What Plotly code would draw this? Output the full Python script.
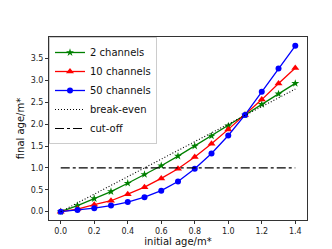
import plotly.graph_objects as go

x = [0.0, 0.1, 0.2, 0.3, 0.4, 0.5, 0.6, 0.7, 0.8, 0.9, 1.0, 1.1, 1.2, 1.3, 1.4]
ch2 = [0, 0.14, 0.30, 0.46, 0.65, 0.85, 1.05, 1.27, 1.50, 1.73, 1.96, 2.21, 2.45, 2.69, 2.93]
ch10 = [0, 0.06, 0.16, 0.25, 0.40, 0.56, 0.76, 0.98, 1.25, 1.55, 1.88, 2.21, 2.56, 2.93, 3.28]
ch50 = [0, 0.04, 0.08, 0.14, 0.22, 0.33, 0.48, 0.69, 0.98, 1.33, 1.74, 2.21, 2.74, 3.27, 3.79]
breakeven_x = [0.0, 1.4]
breakeven_y = [0.0, 2.8]
cutoff_x = [0.0, 1.4]
cutoff_y = [1.0, 1.0]
xticks = [0.0, 0.2, 0.4, 0.6, 0.8, 1.0, 1.2, 1.4]
yticks = [0.0, 0.5, 1.0, 1.5, 2.0, 2.5, 3.0, 3.5]

fig = go.Figure()
fig.add_trace(go.Scatter(x=x, y=ch2, name="2 channels", mode="lines+markers",
                         line=dict(color="green", width=1.3),
                         marker=dict(symbol="star", size=6, color="green")))
fig.add_trace(go.Scatter(x=x, y=ch10, name="10 channels", mode="lines+markers",
                         line=dict(color="red", width=1.3),
                         marker=dict(symbol="triangle-up", size=7, color="red")))
fig.add_trace(go.Scatter(x=x, y=ch50, name="50 channels", mode="lines+markers",
                         line=dict(color="blue", width=1.3),
                         marker=dict(symbol="circle", size=6, color="blue")))
fig.add_trace(go.Scatter(x=breakeven_x, y=breakeven_y, name="break-even", mode="lines",
                         line=dict(color="black", width=1.1, dash="1px,2px")))
fig.add_trace(go.Scatter(x=cutoff_x, y=cutoff_y, name="cut-off", mode="lines",
                         line=dict(color="black", width=1.1, dash="dashdot")))

axis_common = dict(showgrid=False, zeroline=False, showline=True, mirror=True,
                   linecolor="#333", linewidth=1, ticks="outside", ticklen=3,
                   tickcolor="#333", tickfont=dict(size=8, color="#222"))
fig.update_xaxes(range=[-0.07, 1.47], tickvals=xticks, ticktext=[f"{v:.1f}" for v in xticks],
                 title=dict(text="initial age/m*", font=dict(size=10, color="#111"), standoff=2),
                 **axis_common)
fig.update_yaxes(range=[-0.19, 3.99], tickvals=yticks, ticktext=[f"{v:.1f}" for v in yticks],
                 title=dict(text="final age/m*", font=dict(size=10, color="#111"), standoff=4),
                 **axis_common)
fig.update_layout(
    width=332, height=249,
    margin=dict(l=41, r=33, t=29, b=27),
    plot_bgcolor="white", paper_bgcolor="white",
    font=dict(family="DejaVu Sans"),
    legend=dict(x=0.0, y=1.0, xanchor="left", yanchor="top",
                bgcolor="rgba(255,255,255,0.8)", bordercolor="#ccc", borderwidth=1,
                font=dict(size=10, color="#111"), tracegroupgap=0, itemwidth=30),
)
fig.write_html("out.html")
